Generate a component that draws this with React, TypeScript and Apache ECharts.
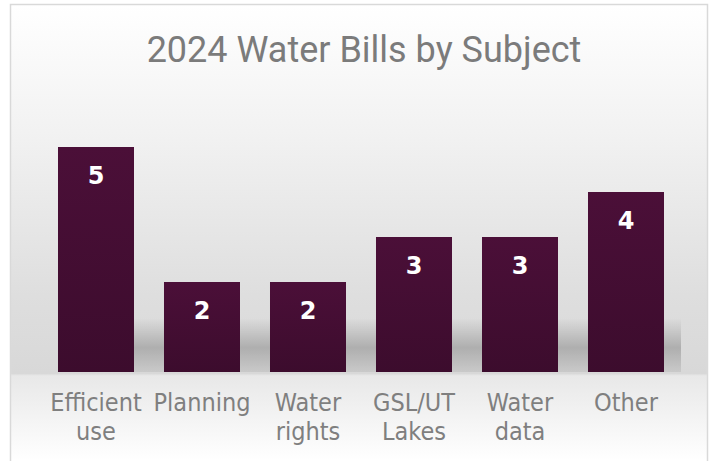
import React, { useEffect, useRef } from "react";
import * as echarts from "echarts";

const title = "2024 Water Bills by Subject";
const categories = ["Efficient use", "Planning", "Water rights", "GSL/UT Lakes", "Water data", "Other"];
const bills = [5, 2, 2, 3, 3, 4];

export default function App() {
  const ref = useRef<HTMLDivElement>(null);
  useEffect(() => {
    document.body.style.margin = "0";
    const chart = echarts.init(ref.current!, null, { renderer: "svg" });
    chart.setOption({
      animation: false,
      backgroundColor: "#ffffff",
      title: {
        text: title,
        left: 359,
        top: 27,
        textAlign: "center",
        textStyle: { fontFamily: "Roboto", fontSize: 36, fontWeight: "normal", color: "#7b7b7b" },
      },
      graphic: [
        {
          type: "rect",
          z: -10,
          shape: { x: 10.5, y: 4.5, width: 697, height: 470 },
          style: {
            stroke: "#d9d9d9",
            lineWidth: 1.5,
            fill: new echarts.graphic.LinearGradient(0, 0, 0, 1, [
              { offset: 0, color: "#ffffff" },
              { offset: 0.27, color: "#f2f2f2" },
              { offset: 0.62, color: "#dedede" },
              { offset: 0.785, color: "#d8d8d8" },
              { offset: 0.79, color: "#e8e8e8" },
              { offset: 0.97, color: "#ffffff" },
              { offset: 1, color: "#ffffff" },
            ]),
          },
        },
        {
          type: "rect",
          z: -5,
          shape: { x: 58, y: 318, width: 623, height: 54 },
          style: {
            fill: new echarts.graphic.LinearGradient(0, 0, 0, 1, [
              { offset: 0, color: "rgba(0,0,0,0)" },
              { offset: 0.55, color: "rgba(0,0,0,0.2)" },
              { offset: 1, color: "rgba(0,0,0,0.07)" },
            ]),
          },
        },
      ],
      grid: { left: 43, right: 33, top: 102, bottom: 89 },
      xAxis: {
        type: "category",
        data: categories,
        axisLine: { show: false },
        axisTick: { show: false },
        axisLabel: {
          margin: 16,
          interval: 0,
          fontFamily: "DejaVu Sans Condensed",
          fontSize: 25,
          lineHeight: 29,
          color: "#7f7f7f",
          formatter: (v: string) => v.replace(" ", "\n"),
        },
      },
      yAxis: { type: "value", min: 0, max: 6, interval: 1, show: false, splitLine: { show: false } },
      series: [
        {
          type: "bar",
          data: bills,
          barCategoryGap: "28.3%",
          itemStyle: {
            color: new echarts.graphic.LinearGradient(0, 0, 0, 1, [
              { offset: 0, color: "#4b0f38" },
              { offset: 1, color: "#3c0c2d" },
            ]),
          },
          label: {
            show: true,
            position: "insideTop",
            distance: 17,
            color: "#ffffff",
            fontFamily: "DejaVu Sans",
            fontWeight: "bold",
            fontSize: 24,
          },
        },
      ],
    });
    return () => chart.dispose();
  }, []);
  return <div ref={ref} style={{ width: 712, height: 461 }} />;
}
